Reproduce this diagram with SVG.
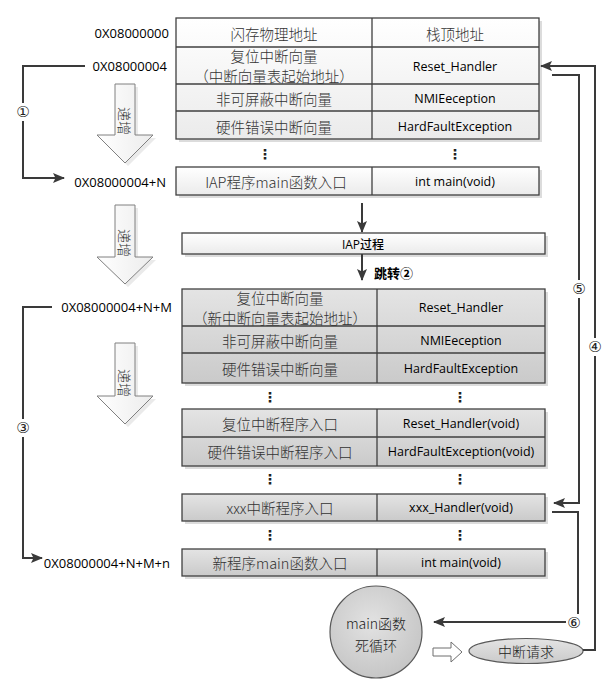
<svg xmlns="http://www.w3.org/2000/svg" width="616" height="684" viewBox="0 0 616 684">
<defs>
<linearGradient id="gLight" x1="0" y1="0" x2="0" y2="1"><stop offset="0" stop-color="#ffffff"/><stop offset="1" stop-color="#ebebeb"/></linearGradient>
<linearGradient id="gGray" x1="0" y1="0" x2="0" y2="1"><stop offset="0" stop-color="#e4e4e4"/><stop offset="1" stop-color="#cacaca"/></linearGradient>
<linearGradient id="gArrow" x1="0" y1="0" x2="1" y2="0"><stop offset="0" stop-color="#ffffff"/><stop offset="1" stop-color="#ececec"/></linearGradient>
<radialGradient id="gBall" cx="0.45" cy="0.4" r="0.65"><stop offset="0" stop-color="#e2e2e2"/><stop offset="1" stop-color="#c4c4c4"/></radialGradient>
<marker id="ah" viewBox="0 0 12 10" refX="11" refY="5" markerWidth="12" markerHeight="10" markerUnits="userSpaceOnUse" orient="auto"><path d="M0,0 L12,5 L0,10 L2.5,5 Z" fill="#3a3a3a"/></marker>
</defs>
<style>
.box{stroke:#404040;stroke-width:1.3}
.light{fill:url(#gLight)}
.gray{fill:url(#gGray)}
.sh{fill:#dcdcdc}
.ln{stroke:#404040;stroke-width:1.3;fill:none}
.cn{font-family:"Noto Sans CJK SC",sans-serif;font-size:14.5px;font-weight:300;fill:#333;text-anchor:middle;dominant-baseline:central}
.lt{font-family:"Open Sans","Noto Sans CJK SC",sans-serif;font-size:12.5px;font-weight:500;fill:#000;text-anchor:middle;dominant-baseline:central}
.addr{font-family:"Open Sans",sans-serif;font-size:13px;fill:#000;dominant-baseline:central}
.dots{font-family:"DejaVu Sans",sans-serif;font-size:14px;font-weight:bold;fill:#222;text-anchor:middle;dominant-baseline:central}
.harrow{stroke:#808080;stroke-width:1;fill:url(#gArrow)}
.at{font-family:"Noto Sans CJK SC",sans-serif;font-size:14px;font-weight:300;fill:#333;text-anchor:middle;dominant-baseline:central}
.wire{stroke:#3a3a3a;stroke-width:2;fill:none}
.num{font-family:"DejaVu Sans",sans-serif;font-size:15px;fill:#222;text-anchor:middle;dominant-baseline:central}
.bg{fill:#ffffff}
</style>

<!-- address labels -->
<g id="addr-labels">
<text class="addr" x="169" y="33" text-anchor="end">0X08000000</text>
<text class="addr" x="167" y="66" text-anchor="end">0X08000004</text>
<text class="addr" x="166" y="182" text-anchor="end">0X08000004+N</text>
<text class="addr" x="172" y="307" text-anchor="end">0X08000004+N+M</text>
<text class="addr" x="170" y="563" text-anchor="end">0X08000004+N+M+n</text>
</g>

<!-- top vector table -->
<g id="iap-vector-table">
<rect class="sh" x="179" y="21" width="363" height="121"/>
<rect class="box light" x="176" y="18" width="363" height="121"/>
<path class="ln" d="M176,47 H539 M176,84 H539 M176,111 H539 M372,18 V139"/>
<text class="cn" x="274" y="33">闪存物理地址</text>
<text class="cn" x="455" y="33">栈顶地址</text>
<text class="cn" x="274" y="55">复位中断向量</text>
<text class="cn" x="274" y="75">（中断向量表起始地址）</text>
<text class="lt" x="455" y="66">Reset_Handler</text>
<text class="cn" x="274" y="98">非可屏蔽中断向量</text>
<text class="lt" x="455" y="98">NMIEeception</text>
<text class="cn" x="274" y="126">硬件错误中断向量</text>
<text class="lt" x="455" y="126">HardFaultException</text>
<text class="dots" x="265" y="154">⋮</text>
<text class="dots" x="455" y="154">⋮</text>
</g>

<g id="iap-main">
<rect class="sh" x="179" y="170" width="363" height="28"/>
<rect class="box light" x="176" y="167" width="363" height="28"/>
<path class="ln" d="M372,167 V195"/>
<text class="cn" x="276" y="181">IAP程序main函数入口</text>
<text class="lt" x="455" y="181">int main(void)</text>
</g>

<g id="iap-process">
<rect class="sh" x="185" y="236" width="363" height="21"/>
<rect class="box light" x="182" y="233" width="363" height="21"/>
<text class="lt" x="363" y="244" style="font-size:12px">IAP过程</text>
</g>

<g id="jump-label">
<text x="374" y="272" style="font-family:'Noto Sans CJK SC',sans-serif;font-size:13px;font-weight:bold;fill:#000;dominant-baseline:central">跳转②</text>
</g>

<!-- new vector table -->
<g id="app-vector-table">
<rect class="sh" x="185" y="292" width="363" height="94"/>
<rect class="box gray" x="182" y="289" width="363" height="94"/>
<path class="ln" d="M182,326 H545 M182,353 H545 M377,289 V383"/>
<text class="cn" x="280" y="297">复位中断向量</text>
<text class="cn" x="280" y="317">（新中断向量表起始地址）</text>
<text class="lt" x="461" y="307">Reset_Handler</text>
<text class="cn" x="280" y="340">非可屏蔽中断向量</text>
<text class="lt" x="461" y="340">NMIEeception</text>
<text class="cn" x="280" y="368">硬件错误中断向量</text>
<text class="lt" x="461" y="368">HardFaultException</text>
<text class="dots" x="270" y="397">⋮</text>
<text class="dots" x="460" y="397">⋮</text>
</g>

<g id="app-handlers">
<rect class="sh" x="185" y="412" width="363" height="57"/>
<rect class="box gray" x="182" y="409" width="363" height="57"/>
<path class="ln" d="M182,437 H545 M377,409 V466"/>
<text class="cn" x="280" y="423">复位中断程序入口</text>
<text class="lt" x="461" y="423">Reset_Handler(void)</text>
<text class="cn" x="280" y="451">硬件错误中断程序入口</text>
<text class="lt" x="461" y="451">HardFaultException(void)</text>
<text class="dots" x="270" y="479">⋮</text>
<text class="dots" x="460" y="479">⋮</text>
</g>

<g id="xxx-handler">
<rect class="sh" x="185" y="497" width="363" height="27"/>
<rect class="box gray" x="182" y="494" width="363" height="27"/>
<path class="ln" d="M377,494 V521"/>
<text class="cn" x="280" y="507">xxx中断程序入口</text>
<text class="lt" x="461" y="507">xxx_Handler(void)</text>
<text class="dots" x="270" y="535">⋮</text>
<text class="dots" x="460" y="535">⋮</text>
</g>

<g id="app-main">
<rect class="sh" x="185" y="552" width="363" height="27"/>
<rect class="box gray" x="182" y="549" width="363" height="27"/>
<path class="ln" d="M377,549 V576"/>
<text class="cn" x="280" y="562">新程序main函数入口</text>
<text class="lt" x="461" y="562">int main(void)</text>
</g>

<!-- hollow increment arrows -->
<g id="inc-arrow-1">
<path class="sh" d="M118,87 H138 V138 H156 L128,166 L100,138 H118 Z" opacity="0.6"/>
<path class="harrow" d="M115,84 H135 V135 H153 L125,163 L97,135 H115 Z"/>
<text class="at" transform="translate(125,121) rotate(90)">递增</text>
</g>
<g id="inc-arrow-2">
<path class="sh" d="M118,208 H138 V260 H156 L128,287 L100,260 H118 Z" opacity="0.6"/>
<path class="harrow" d="M115,205 H135 V257 H153 L125,284 L97,257 H115 Z"/>
<text class="at" transform="translate(125,243) rotate(90)">递增</text>
</g>
<g id="inc-arrow-3">
<path class="sh" d="M118,346 H138 V399 H156 L128,427 L100,399 H118 Z" opacity="0.6"/>
<path class="harrow" d="M115,343 H135 V396 H153 L125,424 L97,396 H115 Z"/>
<text class="at" transform="translate(125,383) rotate(90)">递增</text>
</g>

<!-- main loop circle -->
<g id="main-loop">
<circle cx="376" cy="632" r="46" fill="url(#gBall)" stroke="#595959" stroke-width="1.2"/>
<text class="cn" x="376" y="623" style="font-size:14px;fill:#222">main函数</text>
<text class="cn" x="376" y="645" style="font-size:14px;fill:#222">死循环</text>
</g>

<g id="small-arrow">
<path d="M433,648 H451 V642 L462,652 L451,662 V656 H433 Z" fill="#ffffff" stroke="#6e6e6e" stroke-width="1"/>
</g>

<g id="irq-request">
<ellipse cx="526" cy="651" rx="57" ry="12.5" fill="url(#gGray)" stroke="#595959" stroke-width="1.2"/>
<text class="cn" x="526" y="651" style="font-size:14px;fill:#222">中断请求</text>
</g>

<!-- connectors -->
<g id="connectors">
<path class="wire" d="M85,66 H23 V178 H64" marker-end="url(#ah)"/>
<path class="wire" d="M362,203 V232" marker-end="url(#ah)"/>
<path class="wire" d="M362,254 V280" marker-end="url(#ah)"/>
<path class="wire" d="M52,307 H23 V558 H42" marker-end="url(#ah)"/>
<path class="wire" d="M583,650 H595 V66 H541" marker-end="url(#ah)"/>
<path class="wire" d="M552,75 H579 V503 H554" marker-end="url(#ah)"/>
<path class="wire" d="M552,512 H578 V622 H434" marker-end="url(#ah)"/>
<rect class="bg" x="15" y="103" width="16" height="18"/>
<text class="num" x="23" y="112">①</text>
<rect class="bg" x="15" y="419" width="16" height="18"/>
<text class="num" x="23" y="428">③</text>
<rect class="bg" x="571" y="280" width="16" height="18"/>
<text class="num" x="579" y="289">⑤</text>
<rect class="bg" x="587" y="338" width="16" height="18"/>
<text class="num" x="595" y="347">④</text>
<rect class="bg" x="566" y="614" width="16" height="18"/>
<text class="num" x="574" y="623">⑥</text>
</g>
</svg>
